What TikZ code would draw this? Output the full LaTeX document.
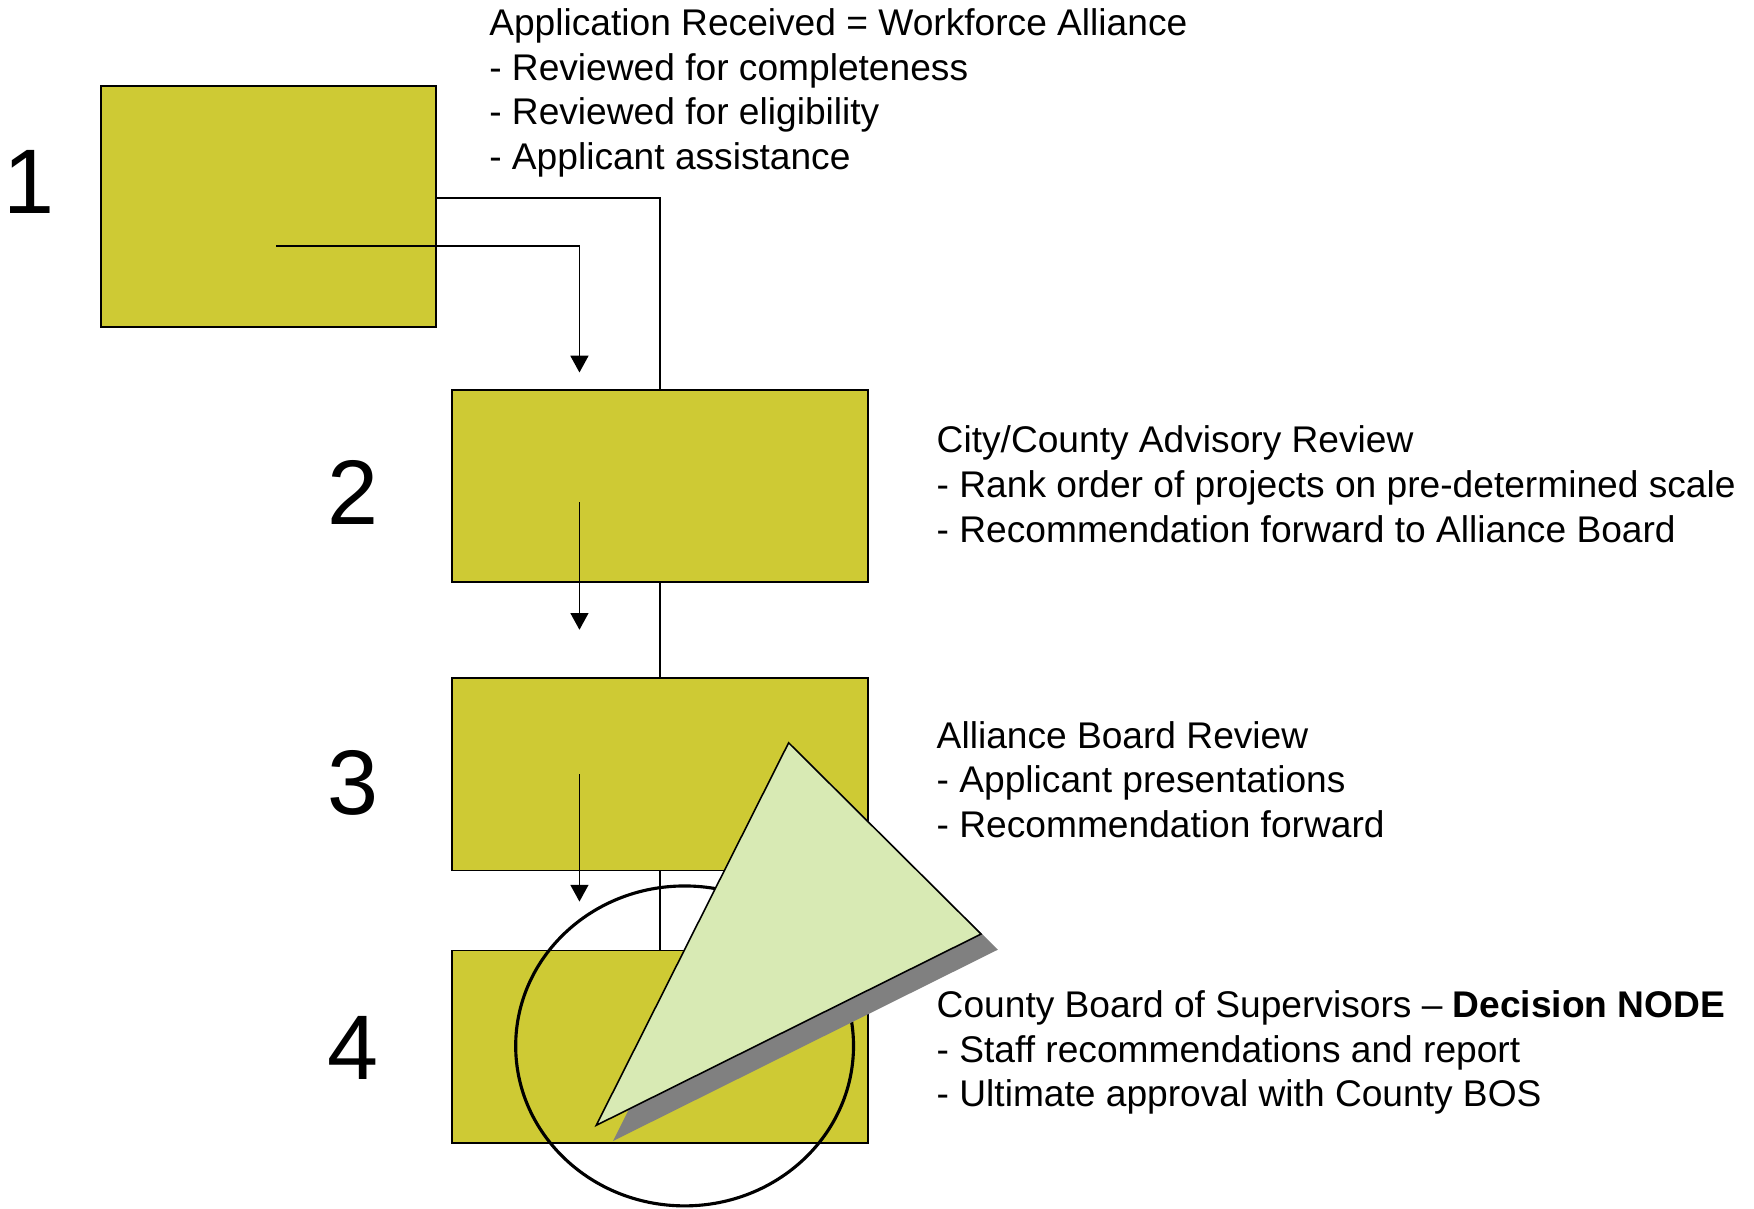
\documentclass[tikz,border=0pt]{standalone}
\usepackage{fontspec}
\setmainfont{Liberation Sans}
\usetikzlibrary{calc,positioning}
\usetikzlibrary{arrows.meta}
\usetikzlibrary{shapes}
\usepackage{xcolor}
\definecolor{boxolive}{RGB}{206,202,52}
\definecolor{palegreen}{RGB}{216,234,180}
\definecolor{shadowgray}{RGB}{128,128,128}

\begin{document}
\begin{tikzpicture}[x=0.5pt,y=-0.5pt,
  stage/.style={draw,fill=boxolive,line width=0.8pt,inner sep=0pt},
  num/.style={inner sep=0pt,font=\fontsize{41}{41}\selectfont},
  notes/.style={align=left,anchor=west,inner sep=0pt,font=\fontsize{16.6}{20}\selectfont},
  flow/.style={-{Triangle[length=7.5pt,width=8pt]},line width=0.8pt}]
\useasboundingbox (0,0) rectangle (1568,1080);
% stages
\node[stage,minimum width=150pt,minimum height=107.5pt] (box1) at (240,184.5) {};
\node[stage,minimum width=186pt,minimum height=86pt] (box2) at (590,434.5) {};
\node[stage,minimum width=186pt,minimum height=86pt,below=42pt of box2] (box3) {};
\node[stage,minimum width=186pt,minimum height=86pt,below=35pt of box3] (box4) {};
% numbers
\node[num] (n1) at (26,163) {1};
\node[num] (n2) at (316,440) {2};
\node[num] (n3) at (316,700) {3};
\node[num] (n4) at (316,937) {4};
% notes
\node[notes] (t1) at (437,83) {Application Received = Workforce Alliance\\
- Reviewed for completeness\\ - Reviewed for eligibility\\ - Applicant assistance};
\node[notes] (t2) at (837,433) {City/County Advisory Review\\
- Rank order of projects on pre-determined scale\\ - Recommendation forward to Alliance Board};
\node[notes] (t3) at (837,697) {Alliance Board Review\\
- Applicant presentations\\ - Recommendation forward};
\node[notes] (t4) at (837,941) {County Board of Supervisors -- \textbf{Decision NODE}\\
- Staff recommendations and report\\ - Ultimate approval with County BOS};
% connectors
\draw[line width=0.8pt] ([yshift=3.75pt]box1.east) -| (box2.north);
\draw[line width=0.8pt] (box2.south) -- (box3.north);
\draw[line width=0.8pt] (box3.south) -- (box4.north);
\coordinate (s1) at (247,220);
\coordinate (e1) at (518,333);
\coordinate (s2) at (518,449);
\coordinate (e2) at (518,563);
\coordinate (s3) at (518,692);
\coordinate (e3) at (518,806);
\draw[flow] (s1) -| (e1);
\draw[flow] (s2) -- (e2);
\draw[flow] (s3) -- (e3);
% decision marker
\node[draw,ellipse,line width=1.4pt,minimum width=151pt,minimum height=143pt,inner sep=0pt] (decision) at (612,935) {};
\coordinate (ta) at (705,664);
\coordinate (tb) at (877,835);
\coordinate (tc) at (533,1006);
\fill[shadowgray] ([shift={(15,14)}]ta) -- ([shift={(15,14)}]tb) -- ([shift={(15,14)}]tc) -- cycle;
\draw[fill=palegreen,line width=0.7pt] (ta) -- (tb) -- (tc) -- cycle;
\end{tikzpicture}
\end{document}
